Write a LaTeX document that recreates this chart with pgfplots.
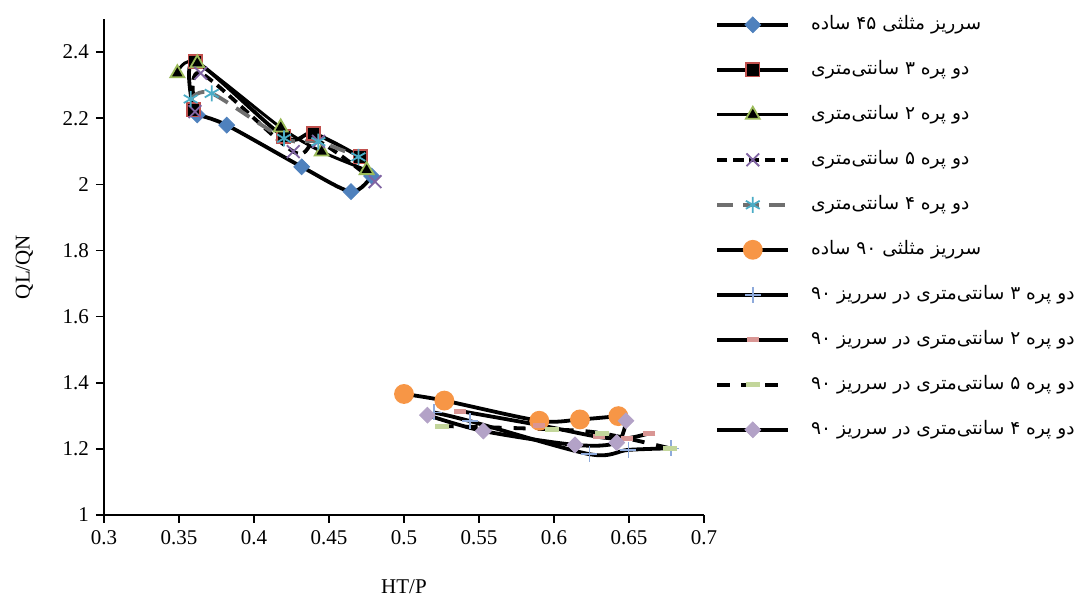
\documentclass[border=0pt]{standalone}
\usepackage{fontspec}
\setmainfont{Liberation Serif}
\newfontfamily\arabicfont[Script=Arabic]{DejaVu Sans}
\usepackage{pgfplots}
\pgfplotsset{compat=1.18}
\TeXXeTstate=1
\definecolor{cBlue}{HTML}{4F81BD}
\definecolor{cRed}{HTML}{C0504D}
\definecolor{cGreen}{HTML}{9BBB59}
\definecolor{cPurple}{HTML}{8064A2}
\definecolor{cCyan}{HTML}{4BACC6}
\definecolor{cGray}{HTML}{6F6F6F}
\definecolor{cOrange}{HTML}{F79646}
\definecolor{cLBlue}{HTML}{8EAADB}
\definecolor{cPink}{HTML}{D99694}
\definecolor{cLGreen}{HTML}{C3D69B}
\definecolor{cLav}{HTML}{B3A2C7}
\newcommand{\fa}[1]{{\arabicfont\beginR #1\endR}}
\begin{document}
\begin{tikzpicture}
\begin{axis}[
  name=ax,
  scale only axis,
  width=300pt, height=248pt,
  xmin=0.3, xmax=0.7, ymin=1, ymax=2.5,
  axis lines*=left,
  axis line style={line width=0.9pt},
  tick align=outside,
  major tick length=4pt,
  tick style={black, line width=0.8pt},
  xtick={0.3,0.35,0.4,0.45,0.5,0.55,0.6,0.65,0.7},
  xticklabels={0.3,0.35,0.4,0.45,0.5,0.55,0.6,0.65,0.7},
  ytick={1,1.2,1.4,1.6,1.8,2,2.2,2.4},
  yticklabels={1,1.2,1.4,1.6,1.8,2,2.2,2.4},
  tick label style={font=\fontsize{10.5}{12}\selectfont},
  label style={font=\fontsize{10.5}{12}\selectfont},
  xlabel={HT/P},
  ylabel={QL/QN},
  xlabel style={yshift=-11pt},
  ylabel style={yshift=8pt},
  legend cell align=left,
  legend style={at={(1,1)}, anchor=north west, xshift=5.5pt, yshift=3.8pt,
    draw=none, fill=none, inner sep=0pt, row sep=9.5pt, column sep=10.5pt,
    nodes={inner sep=0pt, text height=9pt, text depth=4pt, font=\fontsize{9.3}{11}\selectfont}},
  legend image code/.code={%
    \draw[mark repeat=2, mark phase=2, #1] plot coordinates {(0pt,0pt) (17.75pt,0pt) (35.5pt,0pt)};},
]
% 45 simple
\addplot[black, line width=1.9pt, smooth, mark=square*, mark size=2.8pt,
  mark options={rotate=45, fill=cBlue, draw=cBlue, line width=0.4pt, solid}]
  coordinates {(0.3622,2.210) (0.3818,2.179) (0.4318,2.053) (0.4647,1.978) (0.4784,2.025)};
\addlegendentry{\fa{سرریز مثلثی ۴۵ ساده}}
% 3 cm
\addplot[black, line width=1.9pt, smooth, mark=square*, mark size=3.3pt,
  mark options={fill=black, draw=cRed, line width=0.9pt, solid}]
  coordinates {(0.3596,2.225) (0.3607,2.371) (0.4200,2.144) (0.4396,2.154) (0.4707,2.083)};
\addlegendentry{\fa{دو پره ۳ سانتی‌متری}}
% 2 cm
\addplot[black, line width=1.5pt, smooth, mark=triangle*, mark size=4pt,
  mark options={fill=black, draw=cGreen, line width=0.9pt, solid}]
  coordinates {(0.3489,2.336) (0.3622,2.366) (0.4178,2.172) (0.4451,2.099) (0.4751,2.043)};
\addlegendentry{\fa{دو پره ۲ سانتی‌متری}}
% 5 cm
\addplot[black, line width=1.9pt, dash pattern=on 5pt off 3pt, smooth, mark=x, mark size=4.5pt,
  mark options={draw=cPurple, line width=0.9pt, solid}]
  coordinates {(0.3607,2.220) (0.3645,2.336) (0.4262,2.099) (0.4430,2.130) (0.4807,2.008)};
\addlegendentry{\fa{دو پره ۵ سانتی‌متری}}
% 4 cm
\addplot[cGray, line width=1.9pt, dash pattern=on 8pt off 5pt, smooth, mark=asterisk, mark size=4pt,
  mark options={draw=cCyan, line width=0.9pt, solid}]
  coordinates {(0.3578,2.258) (0.3718,2.275) (0.4200,2.139) (0.4429,2.129) (0.4696,2.083)};
\addlegendentry{\fa{دو پره ۴ سانتی‌متری}}
% 90 simple
\addplot[black, line width=1.9pt, smooth, mark=*, mark size=4pt,
  mark options={fill=cOrange, draw=cOrange, solid}]
  coordinates {(0.5000,1.366) (0.5269,1.346) (0.5902,1.285) (0.6173,1.289) (0.6429,1.299)};
\addlegendentry{\fa{سرریز مثلثی ۹۰ ساده}}
% 3 cm in 90
\addplot[black, line width=1.9pt, smooth, mark=+, mark size=4pt,
  mark options={draw=cLBlue, line width=0.8pt, solid}]
  coordinates {(0.5200,1.310) (0.5440,1.284) (0.6236,1.184) (0.6496,1.197) (0.6778,1.2016)};
\addlegendentry{\fa{دو پره ۳ سانتی‌متری در سرریز ۹۰}}
% 2 cm in 90
\addplot[black, line width=1.9pt, smooth, mark=-, mark size=3pt,
  mark options={draw=cPink, line width=2.5pt, solid}]
  coordinates {(0.5373,1.3145) (0.5900,1.272) (0.6300,1.236) (0.6484,1.232) (0.6636,1.247)};
\addlegendentry{\fa{دو پره ۲ سانتی‌متری در سرریز ۹۰}}
% 5 cm in 90
\addplot[black, line width=1.9pt, dash pattern=on 6pt off 6pt, smooth, mark=-, mark size=3.5pt,
  mark options={draw=cLGreen, line width=2.5pt, solid}]
  coordinates {(0.5251,1.269) (0.5984,1.259) (0.6322,1.247) (0.6773,1.2016)};
\addlegendentry{\fa{دو پره ۵ سانتی‌متری در سرریز ۹۰}}
% 4 cm in 90
\addplot[black, line width=1.9pt, smooth, mark=square*, mark size=2.8pt,
  mark options={rotate=45, fill=cLav, draw=cLav, line width=0.4pt, solid}]
  coordinates {(0.5156,1.302) (0.5529,1.254) (0.6140,1.212) (0.6418,1.219) (0.6480,1.285)};
\addlegendentry{\fa{دو پره ۴ سانتی‌متری در سرریز ۹۰}}
\end{axis}
\pgfresetboundingbox
\path (ax.south west) ++(-52pt,-42pt) rectangle ++(544pt,299.5pt);
\end{tikzpicture}
\end{document}
